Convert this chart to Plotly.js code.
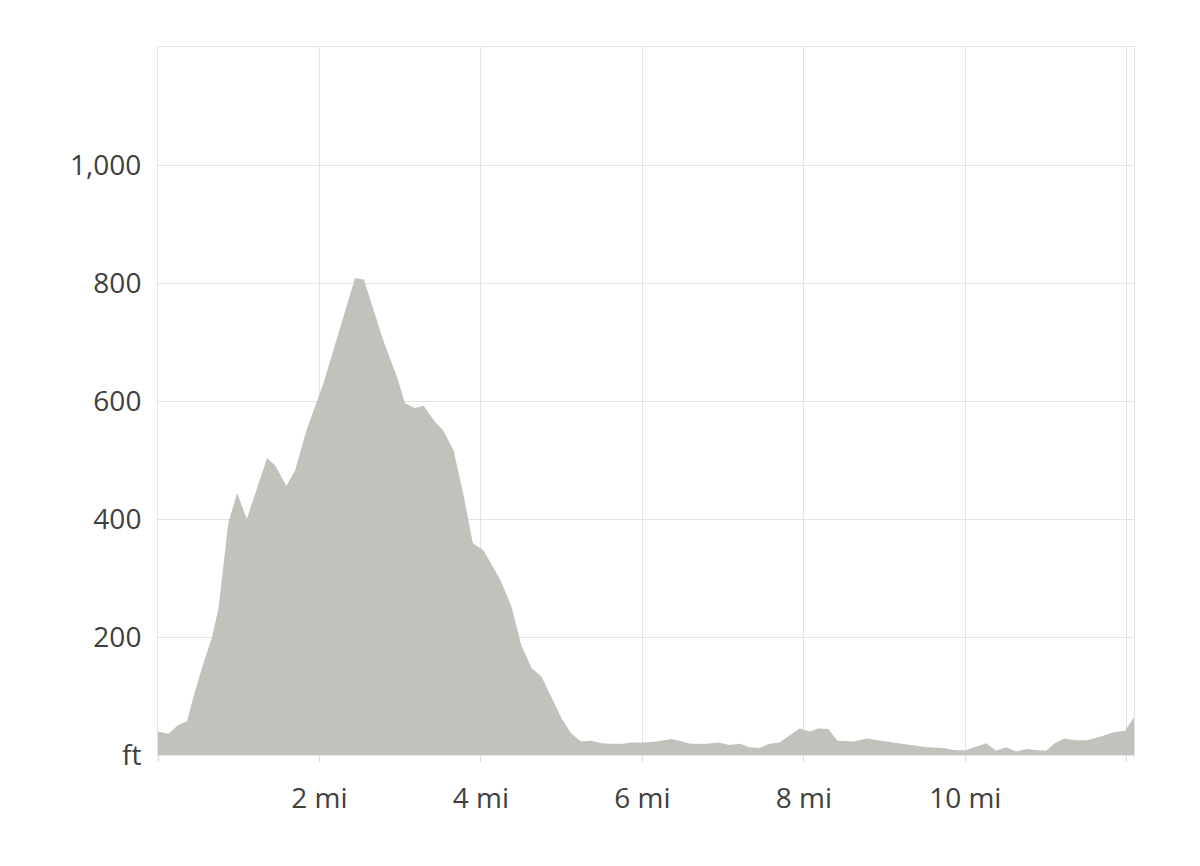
<!DOCTYPE html>
<html>
<head>
<meta charset="utf-8">
<script src="https://cdn.plot.ly/plotly-3.0.1.min.js"></script>
<style>html,body{margin:0;padding:0;background:#fff;}#chart{width:1200px;height:866px;}</style>
</head>
<body>
<div id="chart"></div>
<script>
// distance along route (miles)
const distance = [0, 0.13, 0.25, 0.36, 0.44, 0.55, 0.67, 0.75, 0.87, 0.98, 1.10, 1.35, 1.45, 1.59, 1.70, 1.84, 2.05, 2.21, 2.44, 2.55, 2.79, 2.96, 3.06, 3.18, 3.29, 3.43, 3.53, 3.66, 3.78, 3.90, 4.03, 4.24, 4.38, 4.50, 4.63, 4.75, 4.86, 5.0, 5.12, 5.24, 5.37, 5.49, 5.62, 5.76, 5.87, 6.0, 6.18, 6.36, 6.46, 6.59, 6.79, 6.94, 7.08, 7.21, 7.33, 7.45, 7.58, 7.70, 7.83, 7.95, 8.07, 8.18, 8.30, 8.42, 8.61, 8.78, 9.02, 9.19, 9.35, 9.52, 9.73, 9.87, 10.0, 10.12, 10.26, 10.38, 10.51, 10.63, 10.76, 10.88, 11.0, 11.11, 11.23, 11.36, 11.50, 11.67, 11.83, 11.98, 12.09];
// elevation (feet)
const elevation = [40, 36, 51, 57, 99, 150, 200, 249, 393, 444, 400, 503, 491, 456, 483, 551, 630, 703, 808, 806, 703, 641, 596, 588, 592, 565, 551, 517, 444, 359, 347, 297, 251, 186, 147, 133, 103, 62, 36, 23, 24, 20, 19, 19, 21, 21, 23, 27, 24, 19, 19, 21, 17, 19, 13, 12, 19, 21, 34, 45, 40, 45, 44, 24, 23, 28, 23, 20, 17, 13, 12, 8, 8, 14, 20, 7, 13, 6, 10, 8, 7, 20, 28, 25, 25, 31, 38, 41, 64];

const xTickVals = [0, 2, 4, 6, 8, 10, 12];
const xTickText = ['', '2 mi', '4 mi', '6 mi', '8 mi', '10 mi', ''];
const yTickVals = [0, 200, 400, 600, 800, 1000, 1200];
const yTickText = ['ft', '200', '400', '600', '800', '1,000', ''];

const trace = {
  x: distance,
  y: elevation,
  type: 'scatter',
  mode: 'lines',
  fill: 'tozeroy',
  fillcolor: '#c2c1bc',
  line: {width: 0, color: '#c2c1bc'},
  hoverinfo: 'skip'
};

const layout = {
  width: 1200,
  height: 866,
  margin: {l: 158, r: 66, t: 47, b: 111},
  paper_bgcolor: '#ffffff',
  plot_bgcolor: '#ffffff',
  showlegend: false,
  font: {family: 'Open Sans, sans-serif', size: 28, color: '#404040'},
  xaxis: {
    range: [0, 12.09],
    tickvals: xTickVals,
    ticktext: xTickText,
    showgrid: true,
    gridcolor: '#e3e3e3',
    gridwidth: 1,
    zeroline: false,
    ticks: 'outside',
    ticklen: 6,
    tickcolor: '#d8d8d8',
    ticklabelstandoff: 12,
    showline: true,
    mirror: true,
    linecolor: '#e3e3e3',
    linewidth: 1,
    tickfont: {size: 28, color: '#404040'}
  },
  yaxis: {
    range: [0, 1200],
    tickvals: yTickVals,
    ticktext: yTickText,
    showgrid: true,
    gridcolor: '#e3e3e3',
    gridwidth: 1,
    zeroline: false,
    ticks: '',
    showline: true,
    mirror: true,
    linecolor: '#e3e3e3',
    linewidth: 1,
    ticklabelstandoff: 10,
    tickfont: {size: 28, color: '#404040'}
  }
};

Plotly.newPlot('chart', [trace], layout, {displayModeBar: false, staticPlot: true});
</script>
</body>
</html>
